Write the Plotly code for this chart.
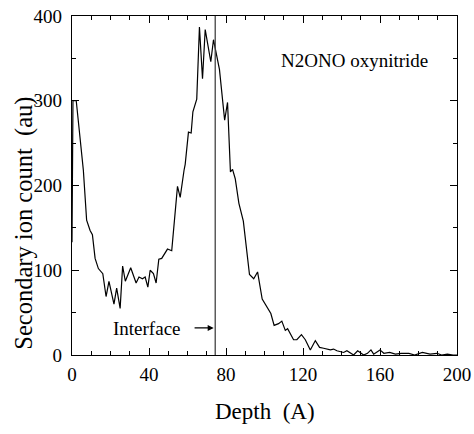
import plotly.graph_objects as go

depth = [0, 0.5, 2.2, 5.9, 7.6, 9.4, 10.6, 12, 13.7, 16, 17.7, 19.2, 21.8, 23.2, 25, 26.3,
         27.7, 30.5, 33.3, 34.8, 36.6, 38, 39.4, 40.6, 42.3, 43.7, 45.1, 46.6, 49.6, 51.8,
         54.8, 56.2, 58.2, 58.8, 60.5, 61.9, 62.8, 64.8, 66.2, 67.8, 69.2, 72.1, 73.5, 74.9,
         76.6, 79.3, 80.8, 82.3, 83.4, 84.8, 86.7, 89, 92.2, 94.4, 96.4, 98.8, 101.2, 103.3,
         105, 107.3, 109, 110.8, 112, 115.1, 116.8, 119.2, 121.2, 123.8, 126.4, 128.6, 130.7,
         134.2, 135.9, 137.6, 141.1, 142.8, 146.3, 148.4, 151.5, 153.5, 155.3, 156.7, 160,
         162, 165, 168, 171, 175, 178, 182, 186, 189.6, 192, 195, 198, 200]
counts = [133, 300, 300, 218, 159, 147, 142, 114, 102, 96, 69, 87, 60, 79, 55, 105,
          87, 103, 85, 92, 90, 92, 80, 100, 96, 85, 113, 114, 125, 123,
          199, 186, 218, 225, 263, 262, 287, 302, 387, 326, 384, 346, 372, 354,
          337, 277, 298, 216, 219, 208, 179, 158, 95, 90, 98, 66, 56, 49,
          35, 37, 40, 29, 31, 18, 18, 24, 18, 6, 17, 9, 8,
          6, 7, 5, 3, 5, 0, 5, 0, 2, 6, 1, 6,
          2, 3, 1, 2, 2, 0, 3, 1, 2, 0, 1, 0, 0]

x_ticks = [0, 40, 80, 120, 160, 200]
y_ticks = [0, 100, 200, 300, 400]
interface_depth = 74.4
sample_label = "N2ONO oxynitride"
interface_label = "Interface"

FONT = "Liberation Serif, Times New Roman, serif"

fig = go.Figure()
fig.add_trace(go.Scatter(x=depth, y=counts, mode="lines",
                         line=dict(color="black", width=1.2), showlegend=False,
                         hoverinfo="skip"))

fig.add_shape(type="line", x0=interface_depth, x1=interface_depth, y0=0, y1=400,
              xref="x", yref="y", line=dict(color="#444444", width=1.3))

fig.add_annotation(x=38.7, y=31, text=interface_label, showarrow=False,
                   xanchor="center", yanchor="middle",
                   font=dict(family=FONT, size=19, color="black"))
fig.add_annotation(x=73.6, y=32, ax=62.9, ay=32, xref="x", yref="y", axref="x", ayref="y",
                   text="", showarrow=True, arrowhead=2, arrowsize=1, arrowwidth=1.2,
                   arrowcolor="black")
fig.add_annotation(x=146.5, y=348, text=sample_label, showarrow=False,
                   xanchor="center", yanchor="middle",
                   font=dict(family=FONT, size=19, color="black"))

fig.add_annotation(x=0.5, y=-0.168, xref="paper", yref="paper",
                   xanchor="center", yanchor="middle",
                   text="Depth  (A)", showarrow=False,
                   font=dict(family=FONT, size=23, color="black"))
fig.add_annotation(x=-0.125, y=0.39, xref="paper", yref="paper", textangle=-90,
                   xanchor="center", yanchor="middle",
                   text="Secondary ion count  (au)", showarrow=False,
                   font=dict(family=FONT, size=24.5, color="black"))

axis_common = dict(showline=True, linecolor="black", linewidth=1.3, mirror="ticks",
                   ticks="inside", tickcolor="black", tickwidth=1.2, ticklen=7,
                   showgrid=False, zeroline=False, automargin=False,
                   tickfont=dict(family=FONT, size=19, color="black"))

fig.update_xaxes(range=[0, 200], tickvals=x_ticks, ticktext=[str(v) for v in x_ticks],
                 ticklabelstandoff=2,
                 minor=dict(dtick=10, tick0=0, ticks="inside", ticklen=4, tickcolor="black",
                            showgrid=False),
                 **axis_common)
fig.update_yaxes(range=[0, 400], tickvals=y_ticks, ticktext=[str(v) for v in y_ticks],
                 ticklabelstandoff=5,
                 minor=dict(dtick=50, tick0=0, ticks="inside", ticklen=4, tickcolor="black",
                            showgrid=False),
                 **axis_common)

fig.update_layout(width=474, height=434, margin=dict(l=72, r=17, t=16, b=79, autoexpand=False),
                  plot_bgcolor="white", paper_bgcolor="white",
                  font=dict(family=FONT, color="black"))

fig.write_html("out.html", config={"displayModeBar": False},
               post_script="document.body.style.margin='0';document.body.style.overflow='hidden';")
